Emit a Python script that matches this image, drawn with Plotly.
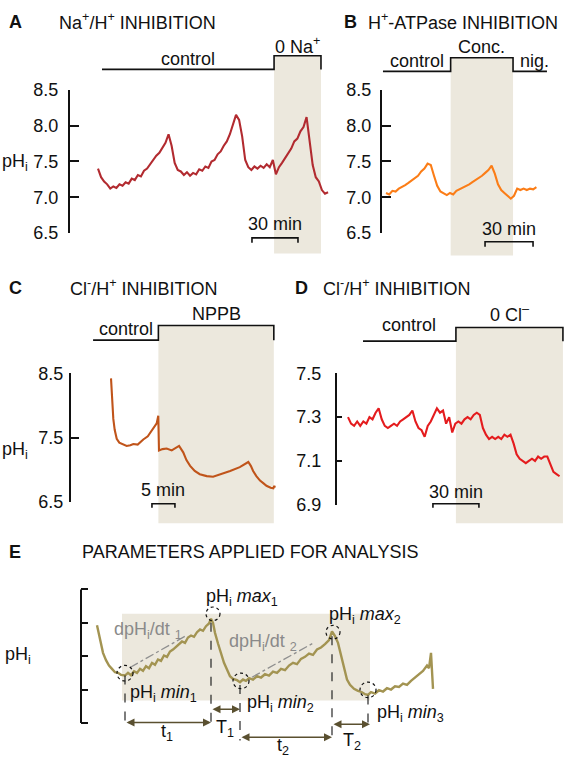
import plotly.graph_objects as go

W, H = 568, 767
FONT = "Liberation Sans, Arial, Helvetica, sans-serif"
INK = "#111111"
SHADE = "#ece8dd"

# ---------------- data ----------------
# Panel A  (time in min, pHi)
A_time = list(range(0, 151, 2))
A_ph = [
    7.40, 7.28, 7.22, 7.18, 7.12, 7.15, 7.13, 7.18, 7.16, 7.21,
    7.19, 7.26, 7.24, 7.31, 7.29, 7.37, 7.40, 7.46, 7.51, 7.58,
    7.62, 7.70, 7.76, 7.88, 7.72, 7.48, 7.38, 7.36, 7.31, 7.35,
    7.30, 7.34, 7.32, 7.39, 7.37, 7.43, 7.41, 7.50, 7.52, 7.60,
    7.64, 7.72, 7.78, 7.88, 8.02, 8.15, 8.08, 7.85, 7.52, 7.42,
    7.38, 7.43, 7.40, 7.44, 7.41, 7.46, 7.42, 7.52, 7.32, 7.42,
    7.48, 7.55, 7.62, 7.68, 7.78, 7.82, 7.92, 7.98, 8.12, 7.82,
    7.45, 7.28, 7.22, 7.10, 7.05, 7.07]
A_periods = [2.6, 114.8, 145.4]          # control start, 0 Na+ start, end
A_labels = ["control", "0 Na<sup>+</sup>"]
A_scale = [100.4, 130.4]                 # 30 min
A_ticks = [6.5, 7.0, 7.5, 8.0, 8.5]

# Panel B
B_time = list(range(0, 95, 2))
B_ph = [
    7.06, 7.04, 7.09, 7.08, 7.12, 7.14, 7.17, 7.20, 7.23, 7.27,
    7.30, 7.36, 7.40, 7.47, 7.45, 7.30, 7.16, 7.08, 7.05, 7.03,
    7.06, 7.04, 7.09, 7.11, 7.13, 7.16, 7.18, 7.21, 7.24, 7.26,
    7.30, 7.34, 7.38, 7.44, 7.33, 7.18, 7.10, 7.06, 7.02, 6.98,
    7.02, 7.12, 7.10, 7.12, 7.10, 7.12, 7.11, 7.14]
B_periods = [-1.9, 40.4, 79.4, 100.6]   # control, Conc., nig.
B_labels = ["control", "Conc.", "nig."]
B_scale = [61.9, 91.9]
B_ticks = [6.5, 7.0, 7.5, 8.0, 8.5]

# Panel C
C_time = [0, 0.15, 0.3, 0.5, 0.8, 1.24, 1.8, 2.33, 3.41, 4.2,
          4.85, 5.8, 6.4, 7.02, 8.0, 8.85, 9.4, 9.93, 10.28, 10.43,
          11.2, 12.1, 13.2, 14.0, 14.8, 15.7, 16.4, 17.2, 18.2, 19.3,
          20.8, 22.2, 24.0, 25.9, 28.0, 29.0, 29.85, 30.4, 30.9, 31.6,
          32.4, 33.1, 33.8, 34.7, 35.3, 35.5, 35.65]
C_ph = [8.42, 8.15, 7.95, 7.79, 7.62, 7.48, 7.42, 7.40, 7.37, 7.38,
        7.40, 7.39, 7.43, 7.47, 7.52, 7.60, 7.66, 7.72, 7.84, 7.30,
        7.32, 7.33, 7.30, 7.33, 7.37, 7.27, 7.15, 7.06, 6.98, 6.93,
        6.90, 6.89, 6.93, 6.98, 7.04, 7.08, 7.12, 7.06, 6.98, 6.90,
        6.83, 6.79, 6.75, 6.72, 6.71, 6.75, 6.72]
C_periods = [-3.9, 10.3, 35.4]
C_labels = ["control", "NPPB"]
C_scale = [8.9, 13.9]                   # 5 min
C_ticks = [6.5, 7.5, 8.5]

# Panel D
D_time = list(range(0, 139, 2))
D_ph = [
    7.30, 7.27, 7.26, 7.28, 7.26, 7.28, 7.27, 7.30, 7.29, 7.32,
    7.34, 7.29, 7.26, 7.25, 7.26, 7.27, 7.26, 7.28, 7.29, 7.30,
    7.31, 7.33, 7.28, 7.25, 7.24, 7.21, 7.26, 7.28, 7.31, 7.34,
    7.32, 7.33, 7.27, 7.30, 7.23, 7.27, 7.28, 7.27, 7.29, 7.30,
    7.29, 7.31, 7.32, 7.31, 7.25, 7.22, 7.20, 7.21, 7.20, 7.21,
    7.20, 7.22, 7.21, 7.22, 7.18, 7.13, 7.11, 7.10, 7.09, 7.10,
    7.11, 7.10, 7.12, 7.11, 7.12, 7.12, 7.08, 7.05, 7.04, 7.03]
D_periods = [9.8, 70.4, 140.2]
D_labels = ["control", "0 Cl<sup>\u2013</sup>"]
D_scale = [55.4, 85.4]
D_ticks = [6.9, 7.1, 7.3, 7.5]

# Panel E (schematic, arbitrary units)
E_time = [0, 3, 6, 9, 12, 15, 18, 21, 24, 28,
          31, 34, 37, 40, 43, 46, 49, 52, 55, 58,
          61, 64, 67, 70, 73, 76, 79, 82, 85, 88,
          91, 94, 97, 100, 103, 106, 109, 112, 114, 116,
          118, 121, 124, 127, 130, 133, 136, 140, 143, 146,
          149, 152, 156, 160, 164, 168, 172, 176, 180, 184,
          188, 192, 196, 200, 204, 208, 212, 216, 220, 224,
          228, 232, 235, 238, 241, 244, 247, 250, 253, 257,
          261, 265, 268, 271, 274, 278, 282, 286, 290, 294,
          298, 302, 306, 310, 314, 318, 322, 326, 330, 332,
          334, 335, 336]
E_ph = [2.93, 2.49, 2.10, 1.88, 1.72, 1.62, 1.52, 1.50, 1.44, 1.42,
        1.50, 1.43, 1.55, 1.50, 1.62, 1.56, 1.70, 1.64, 1.80, 1.74,
        1.90, 1.86, 2.02, 1.98, 2.14, 2.20, 2.28, 2.36, 2.44, 2.40,
        2.56, 2.62, 2.58, 2.72, 2.80, 2.76, 2.90, 2.98, 3.12, 3.00,
        2.70, 2.38, 2.08, 1.80, 1.60, 1.40, 1.32, 1.28, 1.22, 1.30,
        1.26, 1.34, 1.30, 1.40, 1.36, 1.46, 1.42, 1.54, 1.50, 1.62,
        1.58, 1.72, 1.80, 1.76, 1.92, 1.98, 2.08, 2.04, 2.20, 2.26,
        2.36, 2.48, 2.74, 2.60, 2.40, 2.00, 1.60, 1.30, 1.14, 1.02,
        0.96, 0.92, 0.86, 0.84, 0.92, 0.88, 0.98, 0.94, 1.04, 1.00,
        1.10, 1.08, 1.18, 1.14, 1.26, 1.36, 1.46, 1.56, 1.72, 1.64,
        2.10, 1.60, 1.02]
E_marks_t = [28, 116, 144, 236, 271]          # min1, max1, min2, max2, min3
E_marks_v = [1.49, 3.27, 1.26, 2.72, 0.99]
E_ticks = [0, 1, 2, 3, 4]

COLORS = {"A": "#b22b30", "B": "#fb7d17", "C": "#c0541a", "D": "#e41c1e", "E": "#a39452"}

# ---------------- helpers ----------------
def ppx(p):
    return p / W


def ppy(p):
    return 1 - p / H


shapes = []
annotations = []


def text(t, x, y, xref="paper", yref="paper", size=18, color=INK, xanchor="center", **kw):
    annotations.append(dict(text=t, x=x, y=y, xref=xref, yref=yref, showarrow=False,
                            xanchor=xanchor, yanchor="middle",
                            font=dict(family=FONT, size=size, color=color), **kw))


def yaxis_common(dom_top, dom_bot, rng, ticks, ticklen, fmt, standoff):
    return dict(domain=[ppy(dom_bot), ppy(dom_top)], range=rng, tickvals=ticks,
                ticktext=[fmt.format(t) for t in ticks], ticks="inside", ticklen=ticklen,
                tickwidth=2, tickcolor=INK, showline=True, linewidth=2, linecolor=INK,
                showgrid=False, zeroline=False, ticklabelstandoff=standoff,
                tickfont=dict(family=FONT, size=18, color=INK))


fig = go.Figure()

# ---------- traces ----------
for key, t, v, ax in [("A", A_time, A_ph, ""), ("B", B_time, B_ph, "2"),
                      ("C", C_time, C_ph, "3"), ("D", D_time, D_ph, "4"),
                      ("E", E_time, E_ph, "5")]:
    fig.add_trace(go.Scatter(x=t, y=v, mode="lines", xaxis="x" + ax, yaxis="y" + ax,
                             line=dict(color=COLORS[key], width=2.4 if key == "E" else 2.1),
                             hoverinfo="skip"))

# ---------- panel decorations ----------
def shade(xref, x0, x1, top, bot):
    shapes.append(dict(type="rect", xref=xref, yref="paper", x0=x0, x1=x1,
                       y0=ppy(bot), y1=ppy(top), fillcolor=SHADE, line=dict(width=0),
                       layer="below"))


def path(xref, d, width=1.6, color=INK):
    shapes.append(dict(type="path", xref=xref, yref="paper", path=d,
                       line=dict(color=color, width=width)))


def scalebar(xref, s, y, drop, label, ylab):
    yl, yd = ppy(y), ppy(y + drop)
    path(xref, f"M {s[0]},{yd} L {s[0]},{yl} L {s[1]},{yl} L {s[1]},{yd}", width=1.6)
    text(label, (s[0] + s[1]) / 2, ppy(ylab), xref=xref)


# Panel A
shade("x", A_periods[1], A_periods[2], 47, 250)
lo, hi = ppy(61), ppy(47)
path("x", f"M {A_periods[0]},{lo} L {A_periods[1]},{lo} L {A_periods[1]},{hi} "
          f"L {A_periods[2]},{hi} L {A_periods[2]},{lo}")
text(A_labels[0], (A_periods[0] + A_periods[1]) / 2, ppy(50), xref="x")
text(A_labels[1], (A_periods[1] + A_periods[2]) / 2, ppy(36), xref="x")
scalebar("x", A_scale, 234, 5, "30 min", 220)

# Panel B
shade("x2", B_periods[1], B_periods[2], 49, 252)
lo, hi = ppy(63), ppy(49)
path("x2", f"M {B_periods[0]},{lo} L {B_periods[1]},{lo} L {B_periods[1]},{hi} "
           f"L {B_periods[2]},{hi} L {B_periods[2]},{lo} L {B_periods[3]},{lo}")
text(B_labels[0], (B_periods[0] + B_periods[1]) / 2, ppy(52), xref="x2")
text(B_labels[1], (B_periods[1] + B_periods[2]) / 2, ppy(38), xref="x2")
text(B_labels[2], (B_periods[2] + B_periods[3]) / 2, ppy(52), xref="x2", xshift=4)
scalebar("x2", B_scale, 238, 5, "30 min", 225)

# Panel C
shade("x3", C_periods[1], C_periods[2], 324, 527)
lo, hi = ppy(339), ppy(324)
path("x3", f"M {C_periods[0]},{lo} L {C_periods[1]},{lo} L {C_periods[1]},{hi} "
           f"L {C_periods[2]},{hi} L {C_periods[2]},{lo}")
text(C_labels[0], (C_periods[0] + C_periods[1]) / 2, ppy(328), xref="x3")
text(C_labels[1], (C_periods[1] + C_periods[2]) / 2, ppy(312), xref="x3")
scalebar("x3", C_scale, 507, 4, "5 min", 493)

# Panel D
shade("x4", D_periods[1], D_periods[2], 326, 527)
lo, hi = ppy(340), ppy(326)
path("x4", f"M {D_periods[0]},{lo} L {D_periods[1]},{lo} L {D_periods[1]},{hi} "
           f"L {D_periods[2]},{hi} L {D_periods[2]},{lo}")
text(D_labels[0], (D_periods[0] + D_periods[1]) / 2, ppy(323), xref="x4")
text(D_labels[1], (D_periods[1] + D_periods[2]) / 2, ppy(312), xref="x4")
scalebar("x4", D_scale, 507, 4, "30 min", 495)

# Titles
for letter, lx, title, tx, y in [("A", 7, "Na<sup>+</sup>/H<sup>+</sup> INHIBITION", 57, 12),
                                 ("B", 342, "H<sup>+</sup>-ATPase INHIBITION", 366, 12),
                                 ("C", 7, "Cl<sup>-</sup>/H<sup>+</sup> INHIBITION", 68, 285),
                                 ("D", 293, "Cl<sup>-</sup>/H<sup>+</sup> INHIBITION", 321, 285),
                                 ("E", 7, "PARAMETERS APPLIED FOR ANALYSIS", 80, 557)]:
    text(f"<b>{letter}</b>", ppx(lx), ppy(y), xanchor="left")
    text(title, ppx(tx), ppy(y), xanchor="left")

# pHi labels
text("pH<sub>i</sub>", ppx(0), ppy(157), xanchor="left")
text("pH<sub>i</sub>", ppx(0), ppy(452), xanchor="left")
text("pH<sub>i</sub>", ppx(3), ppy(663), xanchor="left")

# ---------- Panel E schematic ----------
shapes.append(dict(type="rect", xref="x5", yref="y5", x0=25, x1=273, y0=0.67, y1=3.27,
                   fillcolor=SHADE, line=dict(width=0), layer="below"))
shapes.append(dict(type="line", xref="x5 domain", yref="y5", x0=0, x1=0, y0=0, y1=4,
                   line=dict(color=INK, width=2)))
# slopes
for (x0, y0, x1, y1) in [(33, 1.66, 90, 2.63), (155, 1.37, 216, 2.39)]:
    shapes.append(dict(type="line", xref="x5", yref="y5", x0=x0, y0=y0, x1=x1, y1=y1,
                       line=dict(color="#8f8f8f", width=1.3, dash="dashdot")))
# circles
for i, (t, v) in enumerate(zip(E_marks_t, E_marks_v)):
    r = 7 if i in (1, 3) else 8
    shapes.append(dict(type="circle", xref="x5", yref="y5", x0=t - r, x1=t + r,
                       y0=v - r / 34.25, y1=v + r / 34.25,
                       line=dict(color=INK, width=1.2, dash="dot")))
# vertical dashed drops
for (t, v0, v1) in [(28, 1.42, 0.0), (114, 3.0, 0.0), (143, 1.14, -0.53),
                    (235, 2.6, -0.49), (271, 0.82, -0.05)]:
    shapes.append(dict(type="line", xref="x5", yref="y5", x0=t, x1=t, y0=v0, y1=v1,
                       line=dict(color=INK, width=1.1, dash="dash")))
# interval arrows
ARROW = "#5a5030"
for (x0, x1, y, lab, lx, ly) in [(28, 114, 0.01, "t<sub>1</sub>", 70, -0.30),
                                 (114, 143, 0.41, "T<sub>1</sub>", 128, -0.16),
                                 (143, 235, -0.43, "t<sub>2</sub>", 186, -0.72),
                                 (235, 273, -0.04, "T<sub>2</sub>", 255, -0.56)]:
    annotations.append(dict(x=x1, y=y, ax=x0, ay=y, xref="x5", yref="y5", axref="x5",
                            ayref="y5", text="", showarrow=True, arrowhead=2,
                            arrowside="end+start", arrowsize=1, arrowwidth=1.6,
                            arrowcolor=ARROW, standoff=0, startstandoff=0))
    text(lab, lx, ly, xref="x5", yref="y5")

GREY = "#8a8a8a"
text("dpH<sub>i</sub>/dt <sub>1</sub>", 15, 2.77, xref="x5", yref="y5", xanchor="left", color=GREY)
text("dpH<sub>i</sub>/dt <sub>2</sub>", 130, 2.40, xref="x5", yref="y5", xanchor="left", color=GREY)
text("pH<sub>i</sub> <i>max</i><sub>1</sub>", 107, 3.77, xref="x5", yref="y5", xanchor="left")
text("pH<sub>i</sub> <i>max</i><sub>2</sub>", 230, 3.21, xref="x5", yref="y5", xanchor="left")
text("pH<sub>i</sub> <i>min</i><sub>1</sub>", 31, 0.88, xref="x5", yref="y5", xanchor="left")
text("pH<sub>i</sub> <i>min</i><sub>2</sub>", 148, 0.58, xref="x5", yref="y5", xanchor="left")
text("pH<sub>i</sub> <i>min</i><sub>3</sub>", 278, 0.29, xref="x5", yref="y5", xanchor="left")

# ---------- axes ----------
hidden = dict(visible=False, showgrid=False, zeroline=False)
layout_axes = dict(
    xaxis=dict(domain=[ppx(70), ppx(340)], range=[-18.26, 157.8], anchor="y", **hidden),
    yaxis=dict(anchor="x", **yaxis_common(82, 229, [6.5, 8.5], A_ticks, 9, "{:.1f}", 6)),
    xaxis2=dict(domain=[ppx(382), ppx(566)], range=[-2.5, 112.5], anchor="y2", **hidden),
    yaxis2=dict(anchor="x2", **yaxis_common(82, 229, [6.5, 8.5], B_ticks, 9, "{:.1f}", 5)),
    xaxis3=dict(domain=[ppx(71), ppx(285)], range=[-8.70, 37.83], anchor="y3", **hidden),
    yaxis3=dict(anchor="x3", **yaxis_common(373, 505, [6.5, 8.5], C_ticks, 8, "{:.1f}", 2)),
    xaxis4=dict(domain=[ppx(337), ppx(566)], range=[-7.17, 142.2], anchor="y4", **hidden),
    yaxis4=dict(anchor="x4", **yaxis_common(373, 508, [6.9, 7.5], D_ticks, 5, "{:.1f}", 10)),
    xaxis5=dict(domain=[ppx(81), ppx(445)], range=[-16, 348], anchor="y5", **hidden),
    yaxis5=dict(anchor="x5", domain=[ppy(760), ppy(590)], range=[-0.818, 4.146],
                tickvals=E_ticks, showticklabels=False, ticks="inside", ticklen=7,
                tickwidth=2, tickcolor=INK, showline=False, showgrid=False, zeroline=False),
)

fig.update_layout(
    width=W, height=H, margin=dict(l=0, r=0, t=0, b=0),
    paper_bgcolor="white", plot_bgcolor="rgba(0,0,0,0)",
    showlegend=False, shapes=shapes, annotations=annotations,
    font=dict(family=FONT, size=18, color=INK),
    **layout_axes,
)

fig.write_html("out.html", config={"displayModeBar": False},
               post_script="document.body.style.margin='0';"
                           "document.body.style.overflow='hidden';")
